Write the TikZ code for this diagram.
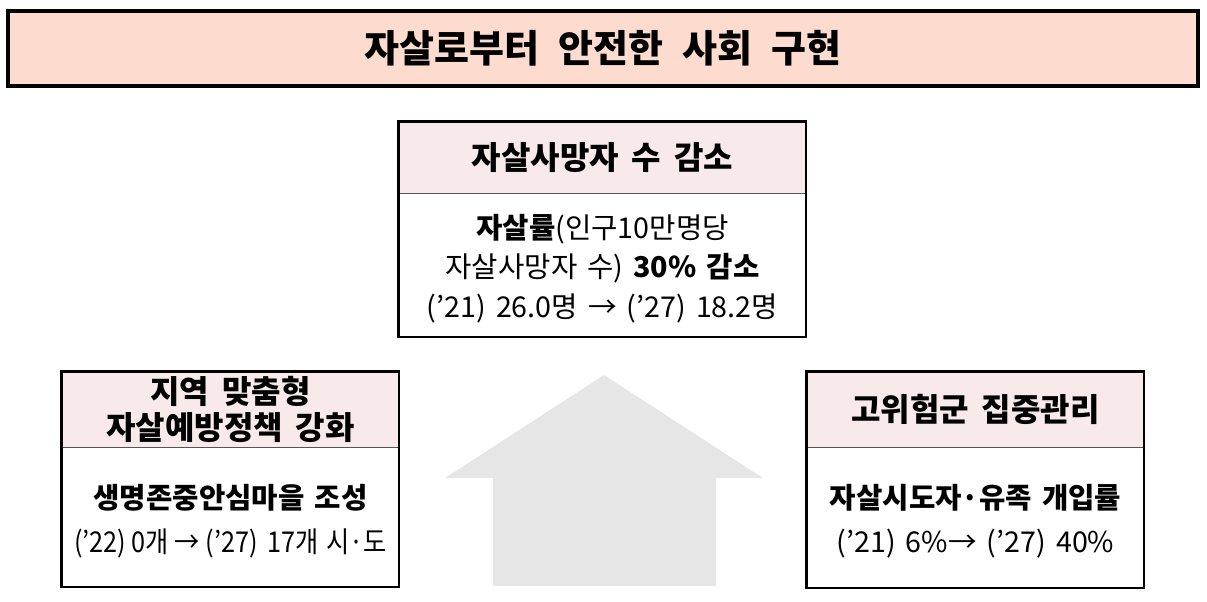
\documentclass[tikz,border=0pt]{standalone}
\usepackage{fontspec}
\setmainfont{Noto Sans CJK KR}
\newfontfamily\krc[FakeStretch=0.88]{Noto Sans CJK KR}
\definecolor{titlefill}{HTML}{FDDCCF}
\definecolor{headfill}{HTML}{F8EAEA}
\definecolor{arrowgray}{HTML}{E6E6E6}
\definecolor{divgray}{HTML}{555555}
\begin{document}
\begin{tikzpicture}[x=0.75pt,y=-0.75pt,
  titlebox/.style={draw=black,line width=2.3pt,fill=titlefill,inner sep=0pt,
    minimum width=1190*0.75pt,minimum height=75*0.75pt,
    font=\bfseries\fontsize{28.5}{34}\selectfont},
  headbox/.style={fill=headfill,inner sep=0pt,align=center,
    font=\bfseries\fontsize{24}{27}\selectfont},
  bodytext/.style={inner sep=0pt,align=center,
    font=\fontsize{21.5}{29.5}\selectfont},
  frame/.style={draw=black,line width=1.9pt},
  divider/.style={draw=divgray,line width=0.7pt}]
\useasboundingbox (0,0) rectangle (1207,602);
% title
\node[titlebox] (title) at (603,48.5) {자살로부터\hspace{0.5em}안전한\hspace{0.5em}사회\hspace{0.5em}구현};
% upward arrow shape
\fill[arrowgray] (604,375) -- (763,478) -- (716,478) -- (716,586) -- (493,586) -- (493,478) -- (445,478) -- cycle;
% center box
\node[headbox,minimum width=407*0.75pt,minimum height=71*0.75pt] (chead) at (602.5,157.5)
  {자살사망자\hspace{0.4em}수\hspace{0.4em}감소};
\coordinate (cbot) at (806,337);
\draw[divider] (chead.south west) -- (chead.south east);
\draw[frame] (chead.north west) rectangle (cbot);
\node[bodytext] (cbody) at (602.5,268.5)
  {\textbf{자살률}(인구10만명당\\
   자살사망자\hspace{0.35em}수)\hspace{0.35em}\textbf{30\%\hspace{0.35em}감소}\\
   (’21)\hspace{0.35em}26.0명\hspace{0.35em}→\hspace{0.35em}(’27)\hspace{0.35em}18.2명};
% left box
\node[headbox,minimum width=337*0.75pt,minimum height=75*0.75pt] (lhead) at (230.5,409.5)
  {지역\hspace{0.4em}맞춤형\\자살예방정책\hspace{0.4em}강화};
\coordinate (lbot) at (399,587);
\draw[divider] (lhead.south west) -- (lhead.south east);
\draw[frame] (lhead.north west) rectangle (lbot);
\node[bodytext,font=\fontsize{21.5}{33}\selectfont] (lbody) at (230.5,521)
  {\textbf{생명존중안심마을\hspace{0.35em}조성}\\
   {\krc (’22)\hspace{0.2em}0개\hspace{0.2em}→\hspace{0.2em}(’27)\hspace{0.35em}17개\hspace{0.25em}시·도}};
% right box
\node[headbox,minimum width=337*0.75pt,minimum height=75*0.75pt] (rhead) at (975.5,409.5)
  {고위험군\hspace{0.4em}집중관리};
\coordinate (rbot) at (1144,588);
\draw[divider] (rhead.south west) -- (rhead.south east);
\draw[frame] (rhead.north west) rectangle (rbot);
\node[bodytext,font=\fontsize{21.5}{33}\selectfont] (rbody) at (975.5,521)
  {\textbf{자살시도자·유족\hspace{0.35em}개입률}\\
   (’21)\hspace{0.35em}6\%→\hspace{0.35em}(’27)\hspace{0.35em}40\%};
\end{tikzpicture}
\end{document}
